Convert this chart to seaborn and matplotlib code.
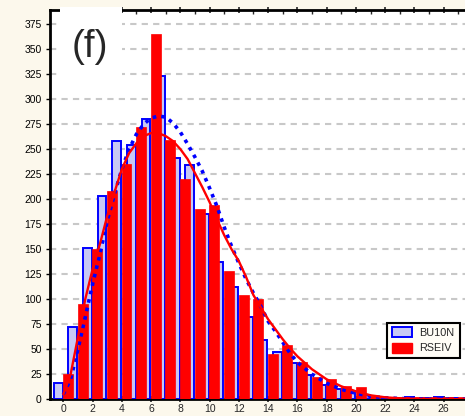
import numpy as np
import pandas as pd
import matplotlib
matplotlib.use("Agg")
import matplotlib.pyplot as plt
from matplotlib.patches import Patch, Rectangle
import seaborn as sns

# ---- data ----
classes = list(range(0, 28))
bu10n = [16, 72, 151, 203, 258, 254, 280, 323, 241, 234, 185, 137, 112, 82,
         59, 47, 36, 24, 14, 10, 7, 4, 2, 1, 2, 1, 2, 1]
rseiv = [25, 95, 150, 208, 235, 272, 365, 259, 220, 190, 194, 128, 104, 100,
         45, 54, 37, 22, 20, 13, 12, 3, 2, 2, 2, 2, 2, 2]

fit_x = [0, 0.5, 1, 1.5, 2, 2.5, 3, 3.5, 4, 4.5, 5, 5.5, 6, 6.5, 7, 7.5, 8,
         8.5, 9, 9.5, 10, 10.5, 11, 11.5, 12, 12.5, 13, 13.5, 14, 14.5, 15,
         15.5, 16, 17, 18, 19, 20, 21, 22, 23, 24, 25, 26, 27, 28]
fit_bu10n = [5, 20, 50, 82, 115, 145, 178, 205, 230, 250, 265, 275, 281, 283,
             282, 276, 267, 255, 242, 228, 211, 193, 172, 153, 136, 120, 106,
             93, 78, 68, 57, 46, 37, 25, 16, 10, 6, 3, 1.5, 0.8, 0.4, 0.2,
             0.1, 0, 0]
fit_rseiv = [5, 25, 62, 100, 130, 155, 183, 207, 230, 246, 256, 263, 266, 266,
             263, 258, 250, 240, 226, 212, 197, 180, 164, 150, 138, 122, 104,
             92, 80, 70, 60, 51, 43, 30, 20, 13, 8, 4, 2, 1, 0.5, 0.3, 0.2,
             0.1, 0]

yticks = list(range(0, 376, 25))
xticks = list(range(0, 27, 2))
label_text = "(f)"
series_names = ["BU10N", "RSEIV"]

# ---- styling ----
sns.set_style("white")
plt.rcParams['font.family'] = ['Liberation Sans', 'DejaVu Sans']

bg = '#FCF8EC'
blue_face = '#C8C8F4'
blue_edge = '#0000FF'
red = '#FF0000'

fig = plt.figure(figsize=(4.65, 4.16), dpi=100, facecolor=bg)
W, H = 465, 416
ax_left, ax_right, ax_top, ax_bottom = 50, 465, 10, 399.3
ax = fig.add_axes([ax_left / W, (H - ax_bottom) / H,
                   (ax_right - ax_left) / W, (ax_bottom - ax_top) / H])
ax.set_facecolor('white')

df = pd.DataFrame({"k": classes, "BU10N": bu10n, "RSEIV": rseiv})

# blue bars: occupy [k-0.55, k+0.05]
bins_b = [float(v) for v in np.arange(-0.85, 28.2, 1.0)]
sns.histplot(data=df, x="k", weights="BU10N", bins=bins_b, shrink=0.6,
             color=blue_face, edgecolor=blue_edge, linewidth=1.4, alpha=1,
             ax=ax, zorder=3)
# red bars: occupy [k-0.02, k+0.66]
bins_r = [float(v) for v in np.arange(-0.18, 28.9, 1.0)]
sns.histplot(data=df, x="k", weights="RSEIV", bins=bins_r, shrink=0.68,
             color=red, edgecolor=red, linewidth=0.5, alpha=1,
             ax=ax, zorder=4)

fit_df = pd.DataFrame({"x": fit_x, "b": fit_bu10n, "r": fit_rseiv})
sns.lineplot(data=fit_df, x="x", y="b", ax=ax, color=blue_edge, lw=2.6,
             linestyle=(0, (1, 1.4)), zorder=5)
sns.lineplot(data=fit_df, x="x", y="r", ax=ax, color=red, lw=1.7, zorder=6)

ax.set_xlim(-0.91, 27.46)
ax.set_ylim(0, 389)
ax.set_xlabel("")
ax.set_ylabel("")

ax.set_yticks(yticks)
ax.set_xticks(xticks)
ax.set_xticks(range(0, 28), minor=True)
ax.tick_params(axis='y', which='major', direction='out', length=3, width=1,
               labelsize=7.5, pad=3, left=True, colors='black')
ax.tick_params(axis='x', which='major', direction='inout', length=4, width=1.2,
               labelsize=7.5, pad=1.5, bottom=True, top=True)
ax.tick_params(axis='x', which='minor', direction='in', length=3, width=1,
               bottom=False, top=True)

for y in yticks[1:]:
    ax.axhline(y, color='#C8C8C8', lw=1.5, linestyle=(0, (3, 2.5)), zorder=1)

for s in ['left', 'bottom', 'top']:
    ax.spines[s].set_visible(True)
    ax.spines[s].set_color('black')
    ax.spines[s].set_linewidth(2)
ax.spines['right'].set_visible(False)

# white box with panel label
bx0 = (60 - ax_left) / (ax_right - ax_left)
bx1 = (122 - ax_left) / (ax_right - ax_left)
by0 = (ax_bottom - 76) / (ax_bottom - ax_top)
by1 = (ax_bottom - 7) / (ax_bottom - ax_top)
ax.add_patch(Rectangle((bx0, by0), bx1 - bx0, by1 - by0, transform=ax.transAxes,
                       facecolor='white', edgecolor='none', zorder=10,
                       clip_on=False))
ax.text((90 - ax_left) / (ax_right - ax_left), (ax_bottom - 47) / (ax_bottom - ax_top),
        label_text, transform=ax.transAxes, ha='center', va='center',
        fontsize=28, zorder=11)

handles = [Patch(facecolor=blue_face, edgecolor=blue_edge, linewidth=1.4),
           Patch(facecolor=red, edgecolor=red)]
leg = ax.legend(handles, series_names, loc='upper left',
                bbox_to_anchor=((387 - ax_left) / (ax_right - ax_left),
                                (ax_bottom - 322.5) / (ax_bottom - ax_top)),
                fontsize=7.8, frameon=True, fancybox=False, framealpha=1,
                edgecolor='black', facecolor='#FFFDF6', handlelength=1.85,
                handleheight=1.0, borderpad=0.45, labelspacing=0.45,
                handletextpad=0.7, borderaxespad=0)
leg.get_frame().set_linewidth(1.5)
leg.set_zorder(12)

fig.savefig("out.png", dpi=100, facecolor=bg)
